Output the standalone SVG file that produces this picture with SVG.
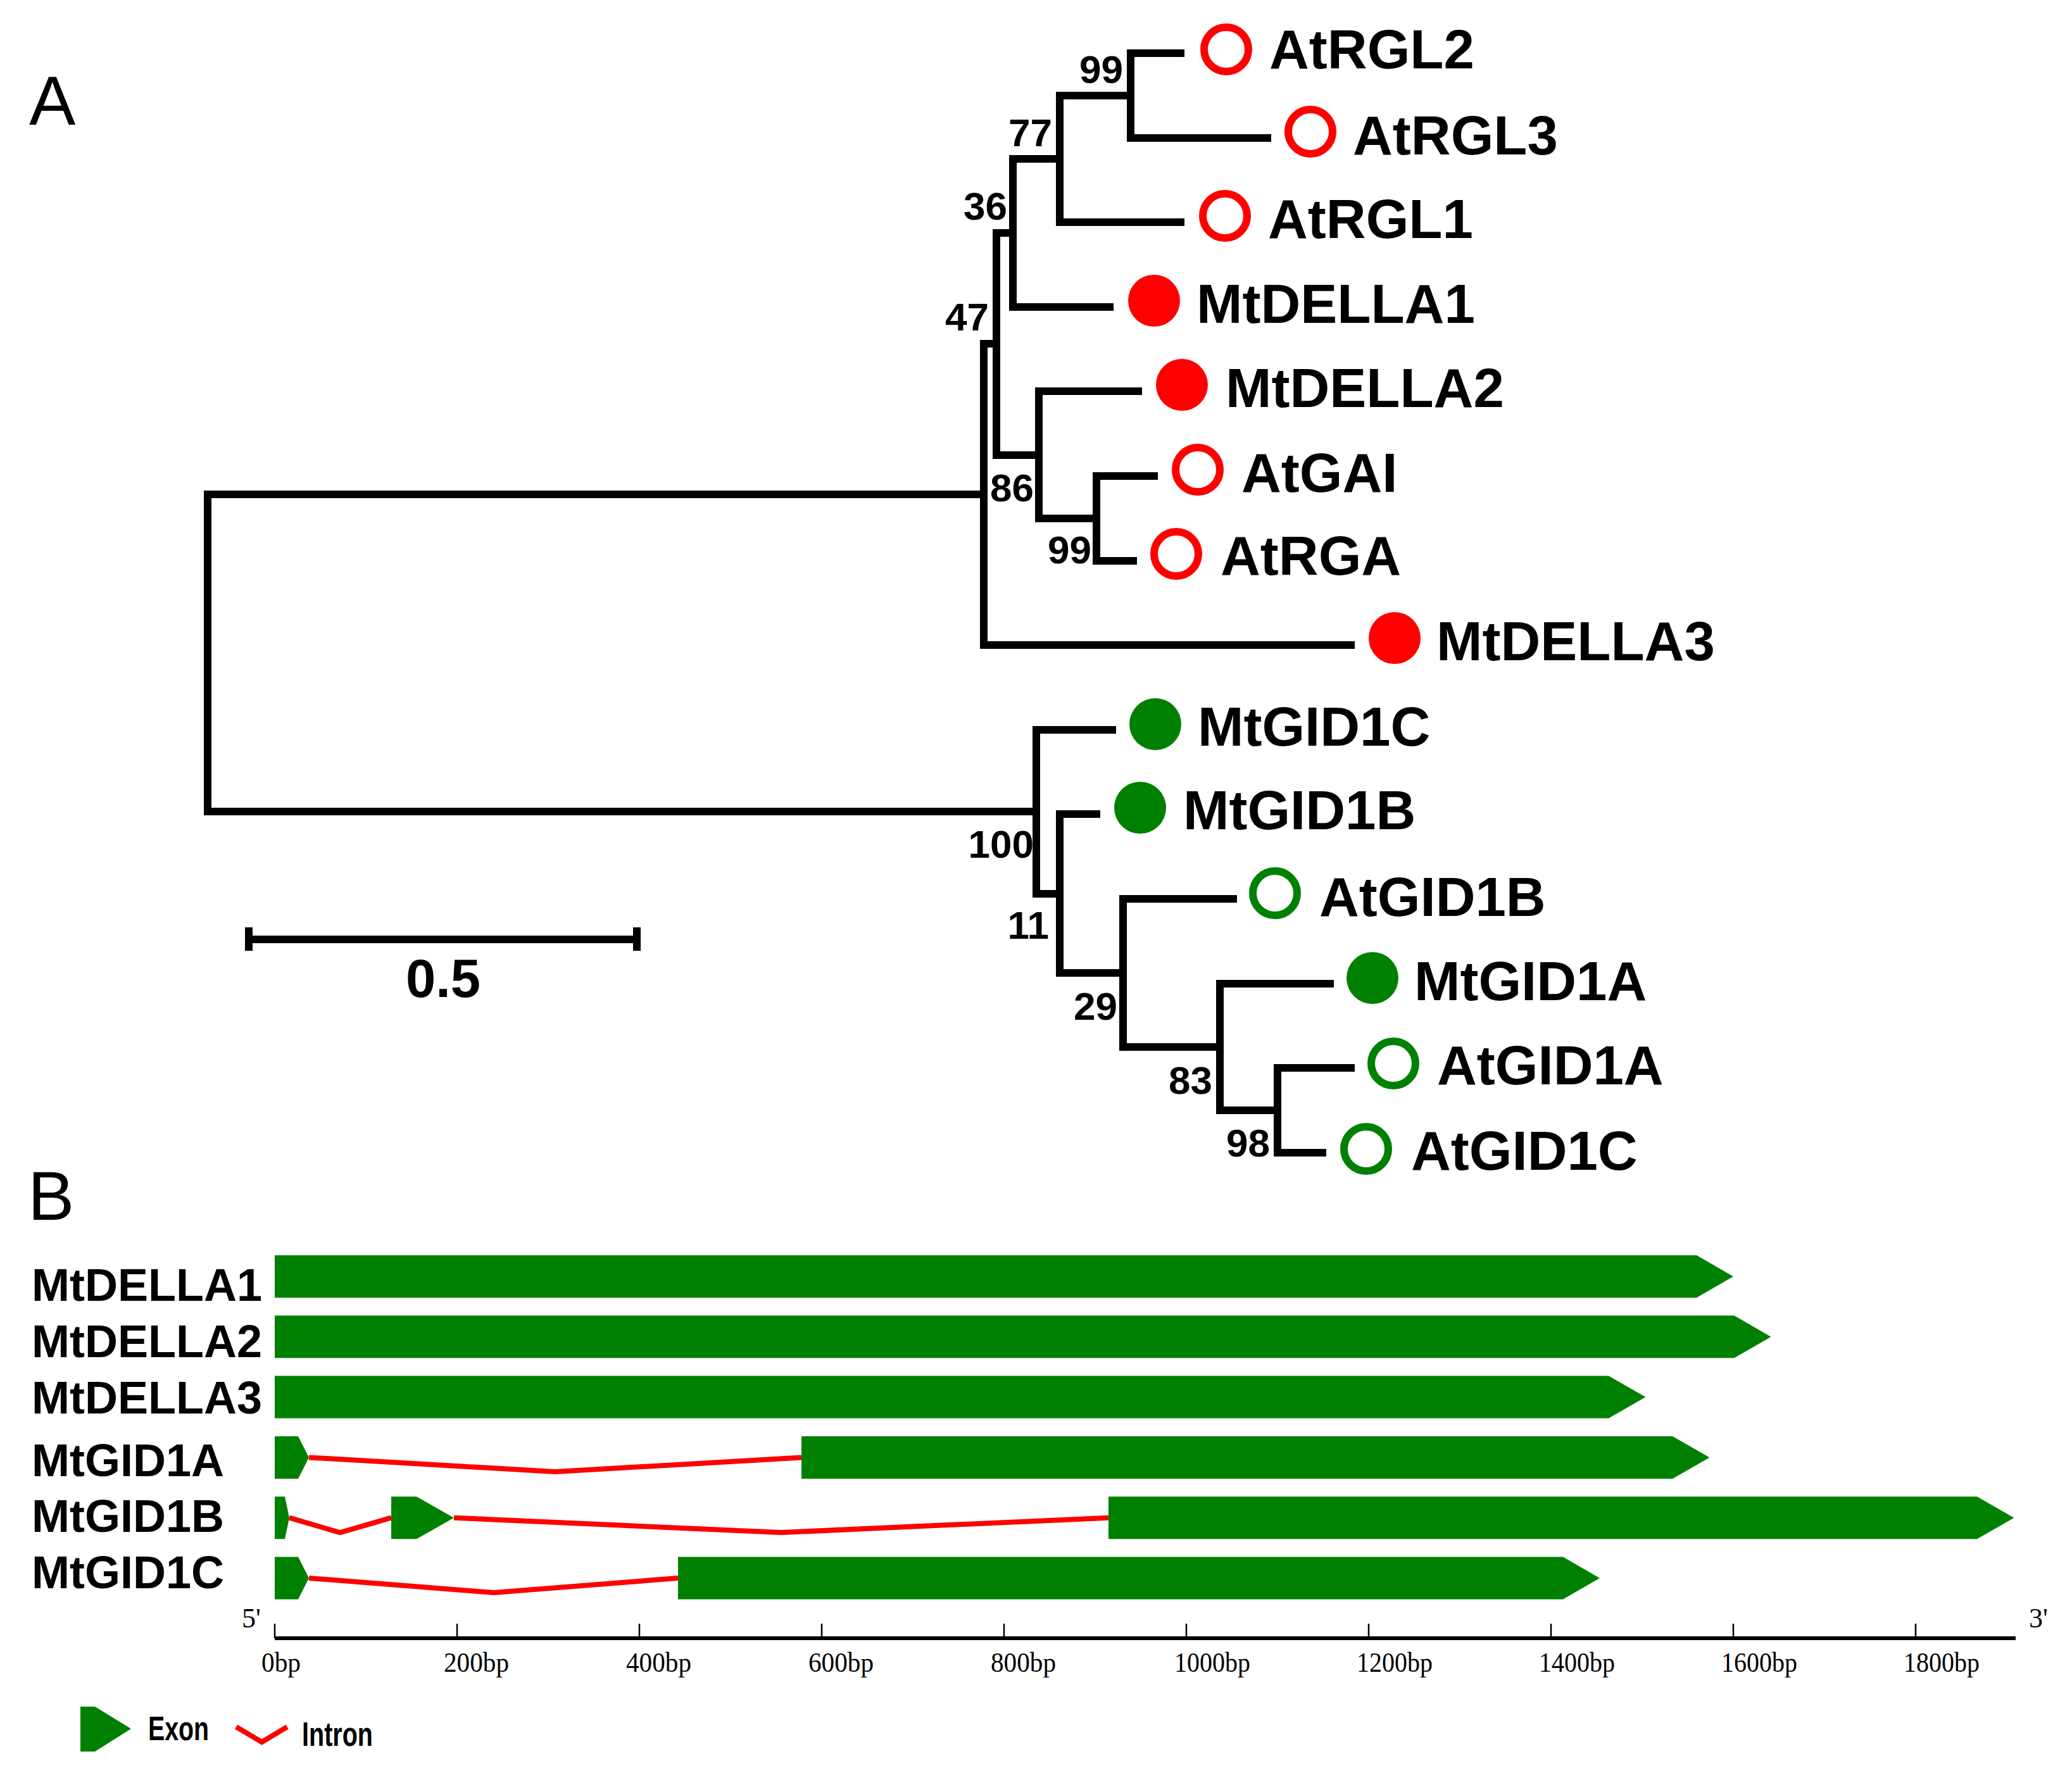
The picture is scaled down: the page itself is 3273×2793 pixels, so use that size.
<svg xmlns="http://www.w3.org/2000/svg" width="3273" height="2793" viewBox="0 0 3273 2793">
<style>
.br{fill:none;stroke:#000;stroke-width:12;stroke-linejoin:miter;stroke-linecap:square}
.tip{font-family:"Liberation Sans",Arial,sans-serif;font-weight:bold;font-size:87px;fill:#000}
.bs{font-family:"Liberation Sans",Arial,sans-serif;font-weight:bold;font-size:62px;fill:#000;text-anchor:end}
.panel{font-family:"Liberation Sans",Arial,sans-serif;font-size:110px;fill:#000}
.gene{font-family:"Liberation Sans",Arial,sans-serif;font-weight:bold;font-size:72px;fill:#000}
.ax{font-family:"Liberation Serif","Times New Roman",serif;font-size:45px;fill:#000}
.leg{font-family:"Liberation Sans",Arial,sans-serif;font-weight:bold;font-size:53px;fill:#000}
.ro{fill:none;stroke:#ff0000;stroke-width:12}
.rf{fill:#ff0000}
.go{fill:none;stroke:#008000;stroke-width:12}
.gf{fill:#008000}
.exon{fill:#008000}
.intron{fill:none;stroke:#ff0000;stroke-width:8;stroke-linejoin:miter}
</style>
<rect width="3273" height="2793" fill="#fff"/>
<text class="panel" x="46" y="197">A</text>
<text class="panel" x="44" y="1927">B</text>

<g id="connectors">
<path class="br" d="M1554 781 H328 V1282 H1637"/>
<path class="br" d="M1574 543 H1554 V1019 H2134"/>
<path class="br" d="M1600 368 H1574 V719 H1641"/>
<path class="br" d="M1674 251 H1600 V485 H1753"/>
<path class="br" d="M1786 151 H1674 V351 H1865"/>
<path class="br" d="M1865 84 H1786 V218 H2002"/>
<path class="br" d="M1798 618 H1641 V819 H1732"/>
<path class="br" d="M1823 752 H1732 V886 H1790"/>
<path class="br" d="M1757 1153 H1637 V1412 H1674"/>
<path class="br" d="M1732 1286 H1674 V1537 H1774"/>
<path class="br" d="M1948 1420 H1774 V1654 H1927"/>
<path class="br" d="M2101 1554 H1927 V1754 H2018"/>
<path class="br" d="M2134 1687 H2018 V1821 H2089"/>
</g>

<g id="bootstrap">
<text class="bs" x="1774" y="131">99</text>
<text class="bs" x="1662" y="231">77</text>
<text class="bs" x="1591" y="347">36</text>
<text class="bs" x="1562" y="522">47</text>
<text class="bs" x="1633" y="792">86</text>
<text class="bs" x="1724" y="890">99</text>
<text class="bs" x="1633" y="1355">100</text>
<text class="bs" x="1657" y="1483">11</text>
<text class="bs" x="1765" y="1611">29</text>
<text class="bs" x="1915" y="1728">83</text>
<text class="bs" x="2006" y="1827">98</text>
</g>

<g id="tip-AtRGL2"><circle class="ro" cx="1937" cy="78" r="35"/><text class="tip" x="2005" y="108">AtRGL2</text></g>
<g id="tip-AtRGL3"><circle class="ro" cx="2070" cy="208" r="35"/><text class="tip" x="2137" y="244">AtRGL3</text></g>
<g id="tip-AtRGL1"><circle class="ro" cx="1935" cy="341" r="35"/><text class="tip" x="2003" y="376">AtRGL1</text></g>
<g id="tip-MtDELLA1"><circle class="rf" cx="1823" cy="475" r="41"/><text class="tip" x="1890" y="510">MtDELLA1</text></g>
<g id="tip-MtDELLA2"><circle class="rf" cx="1867" cy="608" r="41"/><text class="tip" x="1936" y="643">MtDELLA2</text></g>
<g id="tip-AtGAI"><circle class="ro" cx="1892" cy="742" r="35"/><text class="tip" x="1961" y="777">AtGAI</text></g>
<g id="tip-AtRGA"><circle class="ro" cx="1858" cy="875" r="35"/><text class="tip" x="1928" y="908">AtRGA</text></g>
<g id="tip-MtDELLA3"><circle class="rf" cx="2203" cy="1008" r="41"/><text class="tip" x="2269" y="1043">MtDELLA3</text></g>
<g id="tip-MtGID1C"><circle class="gf" cx="1825" cy="1144" r="41"/><text class="tip" x="1892" y="1178">MtGID1C</text></g>
<g id="tip-MtGID1B"><circle class="gf" cx="1801" cy="1276" r="41"/><text class="tip" x="1869" y="1310">MtGID1B</text></g>
<g id="tip-AtGID1B"><circle class="go" cx="2014" cy="1411" r="35"/><text class="tip" x="2084" y="1447">AtGID1B</text></g>
<g id="tip-MtGID1A"><circle class="gf" cx="2168" cy="1545" r="41"/><text class="tip" x="2234" y="1580">MtGID1A</text></g>
<g id="tip-AtGID1A"><circle class="go" cx="2201" cy="1680" r="35"/><text class="tip" x="2270" y="1713">AtGID1A</text></g>
<g id="tip-AtGID1C"><circle class="go" cx="2158" cy="1815" r="35"/><text class="tip" x="2229" y="1848">AtGID1C</text></g>

<g id="scalebar">
<path class="br" style="stroke-linecap:butt" d="M393 1484 H1006 M393 1465 V1502 M1006 1465 V1502"/>
<text x="700" y="1575" text-anchor="middle" style="font-family:'Liberation Sans',Arial,sans-serif;font-weight:bold;font-size:85px">0.5</text>
</g>

<g id="gene-MtDELLA1">
<text class="gene" x="50" y="2055">MtDELLA1</text>
<polygon class="exon" points="434,1983 2680,1983 2738,2016.5 2680,2050 434,2050"/>
</g>
<g id="gene-MtDELLA2">
<text class="gene" x="50" y="2144">MtDELLA2</text>
<polygon class="exon" points="434,2078.3 2739.5,2078.3 2797.5,2111.8 2739.5,2145.3 434,2145.3"/>
</g>
<g id="gene-MtDELLA3">
<text class="gene" x="50" y="2233">MtDELLA3</text>
<polygon class="exon" points="434,2173.6 2541,2173.6 2599.5,2207.1 2541,2240.6 434,2240.6"/>
</g>
<g id="gene-MtGID1A">
<text class="gene" x="50" y="2332">MtGID1A</text>
<polyline class="intron" points="488,2302.4 877,2325 1266,2302.4"/>
<polygon class="exon" points="434,2268.9 471,2268.9 488,2302.4 471,2335.9 434,2335.9"/>
<polygon class="exon" points="1266,2268.9 2642,2268.9 2700.5,2302.4 2642,2335.9 1266,2335.9"/>
</g>
<g id="gene-MtGID1B">
<text class="gene" x="50" y="2420">MtGID1B</text>
<polyline class="intron" points="457,2397.7 537,2421 618,2397.7"/>
<polyline class="intron" points="717,2397.7 1234,2421 1751,2397.7"/>
<polygon class="exon" points="434,2364.2 450,2364.2 457,2397.7 450,2431.2 434,2431.2"/>
<polygon class="exon" points="618,2364.2 658,2364.2 717,2397.7 658,2431.2 618,2431.2"/>
<polygon class="exon" points="1751,2364.2 3123,2364.2 3181.5,2397.7 3123,2431.2 1751,2431.2"/>
</g>
<g id="gene-MtGID1C">
<text class="gene" x="50" y="2509">MtGID1C</text>
<polyline class="intron" points="488,2493 780,2516 1071,2493"/>
<polygon class="exon" points="434,2459.5 471,2459.5 488,2493 471,2526.5 434,2526.5"/>
<polygon class="exon" points="1071,2459.5 2469,2459.5 2527,2493 2469,2526.5 1071,2526.5"/>
</g>

<g id="axis">
<line x1="434" y1="2588" x2="3184" y2="2588" stroke="#000" stroke-width="6"/>
<path stroke="#000" stroke-width="2.5" fill="none" d="M434 2565V2588 M722 2565V2588 M1010 2565V2588 M1298 2565V2588 M1586 2565V2588 M1874 2565V2588 M2162 2565V2588 M2450 2565V2588 M2738 2565V2588 M3026 2565V2588"/>
<text class="ax" x="382" y="2571" style="font-size:44px">5'</text>
<text class="ax" x="3205" y="2571" style="font-size:44px">3'</text>
<text class="ax" x="413" y="2641" textLength="62" lengthAdjust="spacingAndGlyphs">0bp</text>
<text class="ax" x="701" y="2641" textLength="103" lengthAdjust="spacingAndGlyphs">200bp</text>
<text class="ax" x="989" y="2641" textLength="103" lengthAdjust="spacingAndGlyphs">400bp</text>
<text class="ax" x="1277" y="2641" textLength="103" lengthAdjust="spacingAndGlyphs">600bp</text>
<text class="ax" x="1565" y="2641" textLength="103" lengthAdjust="spacingAndGlyphs">800bp</text>
<text class="ax" x="1855" y="2641" textLength="120" lengthAdjust="spacingAndGlyphs">1000bp</text>
<text class="ax" x="2143" y="2641" textLength="120" lengthAdjust="spacingAndGlyphs">1200bp</text>
<text class="ax" x="2431" y="2641" textLength="120" lengthAdjust="spacingAndGlyphs">1400bp</text>
<text class="ax" x="2719" y="2641" textLength="120" lengthAdjust="spacingAndGlyphs">1600bp</text>
<text class="ax" x="3007" y="2641" textLength="120" lengthAdjust="spacingAndGlyphs">1800bp</text>
</g>

<g id="legend">
<polygon class="exon" points="127,2696 150,2696 207,2731 150,2767 127,2767"/>
<text class="leg" x="234" y="2749" textLength="96" lengthAdjust="spacingAndGlyphs">Exon</text>
<polyline class="intron" points="373,2728 413.6,2752 453.6,2728"/>
<text class="leg" x="477" y="2758" textLength="112" lengthAdjust="spacingAndGlyphs">Intron</text>
</g>
</svg>
